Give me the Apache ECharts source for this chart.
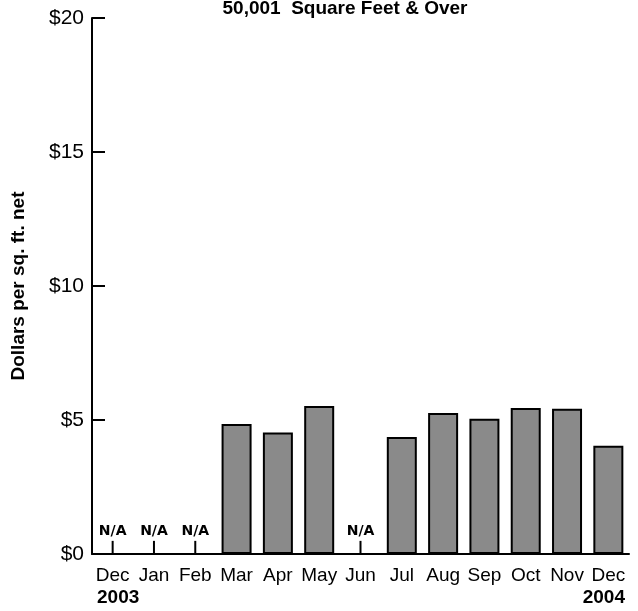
<!DOCTYPE html>
<html>
<head>
<meta charset="utf-8">
<script src="https://cdn.jsdelivr.net/npm/echarts@6/dist/echarts.min.js"></script>
<style>
  html, body { margin: 0; padding: 0; background: #fff; }
  #chart { width: 638px; height: 611px; }
</style>
</head>
<body>
<div id="chart"></div>
<script>
// months shown on the axis, Dec 2003 .. Dec 2004
var months = ['Dec', 'Jan', 'Feb', 'Mar', 'Apr', 'May', 'Jun', 'Jul', 'Aug', 'Sep', 'Oct', 'Nov', 'Dec'];
// dollars per sq. ft. net, null = N/A
var rents = [null, null, null, 4.85, 4.53, 5.52, null, 4.37, 5.26, 5.05, 5.45, 5.42, 4.04];
// short marker under each N/A label
var naMarks = [0.49, 0.49, 0.49, null, null, null, 0.49, null, null, null, null, null, null];
var yTicks = ['$0', '$5', '$10', '$15', '$20'];

var font = '"Liberation Sans", Arial, sans-serif';

var chart = echarts.init(document.getElementById('chart'));

var option = {
	animation: false,
	backgroundColor: '#ffffff',
	title: {
		text: '50,001  Square Feet & Over',
		left: 340,
		textAlign: 'center',
		top: -6,
		textStyle: { fontFamily: font, fontSize: 19, fontWeight: 'bold', color: '#000' }
	},
	grid: { left: 92, right: 9, top: 18, bottom: 57 },
	xAxis: [{
		type: 'category',
		data: months,
		axisLine: { lineStyle: { color: '#000', width: 2 } },
		axisTick: { show: false },
		axisLabel: { fontFamily: font, fontSize: 19, color: '#000', margin: 12, interval: 0 }
	}, {
		// same bands, only carries the N/A markers
		type: 'category',
		data: months,
		show: false
	}],
	yAxis: {
		type: 'value',
		min: 0,
		max: 20,
		interval: 5,
		name: 'Dollars per sq. ft. net',
		nameLocation: 'middle',
		nameGap: 64,
		nameTextStyle: { fontFamily: font, fontSize: 19, fontWeight: 'bold', color: '#000' },
		axisLine: { show: true, lineStyle: { color: '#000', width: 2 } },
		axisTick: { show: true, inside: true, length: 13, lineStyle: { color: '#000', width: 2 } },
		splitLine: { show: false },
		axisLabel: {
			fontFamily: font, fontSize: 21, color: '#000', margin: 8,
			formatter: function (v) { return yTicks[v / 5]; }
		}
	},
	series: [{
		name: 'rent',
		type: 'bar',
		data: rents,
		barWidth: 30,
		itemStyle: { color: '#8a8a8a', borderColor: '#000', borderWidth: 2 }
	}, {
		name: 'na',
		type: 'bar',
		xAxisIndex: 1,
		data: naMarks,
		barWidth: 2,
		itemStyle: { color: '#000' },
		label: {
			show: true,
			position: 'top',
			distance: 3,
			formatter: 'N/A',
			fontFamily: '"DejaVu Sans", sans-serif',
			fontSize: 14,
			fontWeight: 'bold',
			color: '#000'
		}
	}],
	graphic: [{
		type: 'text',
		left: 97,
		top: 588,
		style: { text: '2003', font: 'bold 19px ' + font, fill: '#000' }
	}, {
		type: 'text',
		right: 13,
		top: 588,
		style: { text: '2004', font: 'bold 19px ' + font, fill: '#000' }
	}]
};

chart.setOption(option);
</script>
</body>
</html>
